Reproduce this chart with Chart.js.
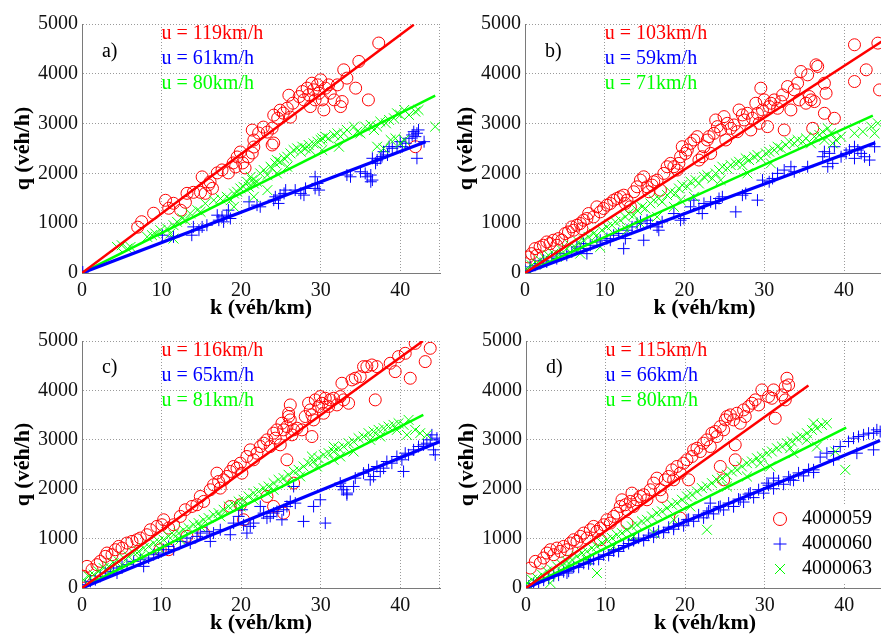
<!DOCTYPE html>
<html><head><meta charset="utf-8">
<script src="https://cdn.jsdelivr.net/npm/chart.js@4.4.0/dist/chart.umd.min.js"></script>
<style>
html,body{margin:0;padding:0;background:#fff;width:881px;height:637px;overflow:hidden;position:relative;}
canvas{position:absolute;}
</style></head><body>
<canvas id="pa" style="left:0px;top:0px" width="450" height="319"></canvas>
<canvas id="pb" style="left:443px;top:0px" width="451" height="319"></canvas>
<canvas id="pc" style="left:0px;top:317px" width="450" height="317"></canvas>
<canvas id="pd" style="left:444px;top:317px" width="450" height="317"></canvas>
<script>
const sensors = ['4000059','4000060','4000063'];
const panelTags = ['a)','b)','c)','d)'];
const xAxisTitle = 'k (véh/km)';
const yAxisTitle = 'q (véh/h)';
const speedsA = [119,61,80];
const speedsB = [103,59,71];
const speedsC = [116,65,81];
const speedsD = [115,66,80];
const textPosK = 10;
const textPosQ = [4800,4300,3800];
const tagPos = [2.5,4450];

// fitted lines [k,q] start/end
const linesA = [[[0,0],[41.7,4985]],[[0,0],[43.2,2637]],[[0,0],[44.4,3563]]];
const linesB = [[[0,0],[45,4680]],[[0,0],[43.9,2617]],[[0,0],[43.6,3160]]];
const linesC = [[[0,0],[42.85,5000]],[[0,0],[45,2965]],[[0,0],[42.9,3504]]];
const linesD = [[[0,0],[35.5,4097]],[[0,0],[44.5,2985]],[[0,0],[40.25,3248]]];

// ---- panel a ----
const redA = [[7,920],[7.5,1030],[9,1200],[10.5,1460],[10.9,1300],[11.5,1400],[12.4,1260],[13,1420],[13.2,1600],[14,1620],[14.9,1620],[15.5,1600],[15.1,1930],[15.9,1770],[16.1,1830],[16.4,1700],[17,2010],[17.6,2070],[18.4,2010],[19,2210],[19.5,2330],[19.9,2430],[19.3,2130],[20.2,2210],[20.5,2110],[20.9,2330],[21.4,2410],[21.6,2530],[21.4,2870],[21.6,2670],[22.2,2810],[22.8,2930],[23.3,2830],[23.9,2910],[24.1,2610],[23.9,2570],[24.1,3170],[24.6,3110],[24.9,3270],[25.3,3210],[25.8,3310],[26,3570],[26.2,3130],[26.5,3410],[27.3,3543],[27.7,3644],[27.9,3476],[28.3,3712],[28.5,3577],[28.7,3342],[28.9,3812],[29.1,3678],[29.3,3476],[29.6,3778],[29.8,3611],[30,3879],[30.2,3476],[30.4,3275],[30.6,3712],[31,3778],[31.2,3611],[31.7,3476],[32.1,3778],[32.5,3342],[32.7,3443],[32.9,4080],[33.3,3913],[34.4,3712],[34.8,4248],[36,3476],[37.3,4618],[41.9,2536]];
const blueA = [[0.1,20],[10.1,759],[11.5,725],[13.8,759],[14,926],[14.7,860],[15.1,926],[15.7,960],[17,1161],[17.2,1061],[17.6,1127],[17.8,1027],[18.2,1161],[18.65,1095],[18.4,1262],[21,1429],[22,1363],[22.4,1329],[24.1,1463],[24.3,1530],[24.7,1397],[25.4,1598],[25.6,1665],[24.9,1564],[26.8,1665],[27.5,1598],[27.9,1564],[28.1,1699],[29.3,1932],[29.6,1799],[29.8,1665],[29.3,1699],[33.3,1967],[33.75,1932],[35,2033],[35.6,2000],[35.85,1932],[36.3,1967],[36.5,1866],[36.3,1832],[36.5,2303],[36.9,2202],[37.1,2269],[37.5,2303],[37.7,2336],[37.9,2436],[38.4,2370],[38.6,2537],[39,2504],[39.6,2537],[40,2637],[40.25,2537],[40.7,2605],[41.1,2705],[41.5,2772],[41.7,2838],[41.9,2738],[42.1,2806],[42.3,2873],[42.1,2303],[43,2637]];
const greenA = [[4.4,523],[5,557],[5.7,490],[6.1,523],[8.2,725],[8.8,759],[9.2,793],[9.85,860],[10.7,893],[11.1,793],[11.5,960],[11.95,1027],[12.6,1095],[13,1061],[13.6,1195],[14.5,1262],[14.9,1228],[15.5,1397],[16.56,1463],[17.4,1496],[18.2,1530],[18.7,1463],[19.1,1597],[19.5,1631],[19.9,1698],[20.3,1731],[20.75,1832],[20.96,1731],[21.2,1932],[21.4,1865],[21.6,1798],[22,1832],[22.4,2000],[22.85,2067],[23.3,1966],[23.7,2134],[23.9,2100],[24.3,2201],[24.5,2268],[24.9,2234],[25.4,2302],[25.8,2335],[26.2,2402],[26.6,2469],[27.05,2503],[27.5,2436],[27.7,2536],[28.1,2503],[28.5,2570],[28.7,2469],[29.1,2603],[29.6,2637],[30,2671],[30.2,2704],[30.6,2738],[31,2704],[31.7,2771],[32.1,2805],[32.5,2738],[32.9,2805],[33.3,2872],[34.2,2939],[34.6,2838],[35,2805],[35.6,2939],[36.3,2973],[36.7,2872],[37.1,2939],[37.5,3040],[38.2,3006],[38.6,3073],[39.2,3107],[39.6,3207],[40,3174],[40.5,3274],[41.1,3174],[41.9,3241],[42.3,3274],[44.4,2939],[37.1,2536],[37.9,2503],[38.8,2671],[39.4,2704],[40,2603],[40.5,2671],[32.3,2536],[30.2,2469],[25.8,2134],[24.5,2000],[23.3,1664],[21.6,1530],[19.1,1329],[11.5,691]];

// ---- panel b ----
const redB = [[0,188],[0.42,322],[0.84,389],[1.26,490],[1.47,356],[1.89,523],[2.31,557],[2.73,624],[3.14,590],[3.56,658],[3.98,557],[4.19,691],[4.61,658],[5.03,792],[5.45,825],[5.87,926],[6.08,859],[6.5,960],[6.92,993],[7.13,892],[7.34,1060],[7.76,1094],[7.97,1194],[8.6,1127],[9.01,1329],[9.43,1228],[9.85,1295],[10.27,1362],[10.69,1396],[11.11,1463],[11.53,1496],[11.95,1530],[12.37,1563],[12.58,1396],[12.79,1463],[13.21,1329],[13.63,1631],[14.05,1731],[14.47,1865],[14.88,1932],[15.3,1731],[15.51,1631],[15.93,1765],[16.14,1832],[16.56,1865],[16.98,1664],[17.4,2000],[17.82,2134],[18.24,2201],[18.66,2134],[19.08,2067],[19.29,2201],[19.5,2335],[19.71,2536],[20.13,2402],[20.34,2469],[20.75,2603],[21.17,2671],[21.59,2738],[21.8,2268],[22.22,2335],[22.43,2536],[22.85,2671],[23.06,2738],[23.27,2402],[23.69,2805],[23.9,3073],[24.11,2939],[24.53,2872],[24.95,3140],[25.16,2671],[25.37,3006],[25.79,2905],[26.21,2973],[26.62,2838],[26.83,3274],[27.25,3174],[27.46,3073],[27.88,3207],[28.3,2872],[28.51,3107],[28.93,3409],[29.14,3207],[29.35,3006],[29.56,3711],[29.77,3274],[29.98,3476],[30.4,2939],[30.61,3342],[30.82,3409],[31.24,3476],[31.66,3308],[32.08,3442],[32.29,3576],[32.49,2872],[32.91,3744],[33.33,3274],[33.75,3677],[34.17,3811],[34.38,3476],[34.59,4046],[35.22,3409],[35.43,3979],[35.64,3543],[35.85,3476],[36.27,3442],[36.48,4180],[36.69,4147],[37.53,3811],[37.74,3610],[37.53,3207],[38.78,3107],[41.3,4583],[41.3,3845],[42.77,4080],[44.23,4616],[44.44,3677],[36.06,2905]];
const blueB = [[0,54],[0.63,121],[1.26,154],[1.89,188],[2.31,255],[2.73,221],[3.35,322],[3.98,289],[4.4,389],[5.24,356],[5.87,423],[6.5,523],[6.92,490],[7.76,389],[7.34,590],[8.18,557],[9.01,624],[9.43,658],[10.27,691],[10.69,658],[11.11,758],[11.74,792],[12.37,490],[12.58,691],[12.79,859],[13.42,926],[14.05,993],[14.47,1027],[14.88,658],[15.3,1060],[15.72,993],[16.56,926],[16.77,859],[17.19,1027],[18.66,1194],[19.5,1060],[19.92,1094],[20.75,1329],[21.17,1463],[21.8,1295],[22.22,1194],[22.43,1396],[23.27,1429],[23.9,1396],[24.32,1496],[24.74,1530],[26.42,1228],[27.25,1563],[27.67,1597],[29.14,1463],[29.77,1865],[30.61,1832],[31.03,1899],[31.66,2000],[32.49,2067],[33.33,2134],[33.75,2033],[35.43,2134],[37.32,2335],[37.53,2436],[38.16,2402],[37.95,2134],[38.78,2536],[39.62,2335],[40.25,2402],[40.67,2469],[41.3,2536],[41.72,2469],[42.14,2402],[42.56,2335],[43.19,2268],[43.82,2536],[41.3,2302],[38.57,2201]];
const greenB = [[0.21,87],[0.84,154],[1.47,188],[1.89,255],[2.52,289],[2.94,356],[3.56,389],[3.98,322],[4.61,456],[5.24,490],[5.66,557],[6.29,523],[6.71,624],[7.34,658],[7.97,725],[8.6,792],[9.01,758],[9.64,859],[10.27,926],[10.9,960],[11.32,1027],[11.95,1060],[12.58,1127],[13,1194],[13.63,1161],[14.05,1261],[14.68,1329],[15.09,1295],[15.72,1396],[16.14,1463],[16.77,1496],[17.19,1429],[17.82,1563],[18.24,1631],[18.87,1597],[19.29,1698],[19.71,1765],[20.34,1731],[20.75,1832],[21.38,1865],[21.8,1798],[22.43,1932],[22.85,1966],[23.48,1899],[23.9,2000],[24.32,2067],[24.74,2134],[25.37,2100],[25.79,2167],[26.42,2201],[26.83,2234],[27.25,2167],[27.67,2302],[28.09,2268],[28.72,2335],[29.14,2369],[29.56,2302],[30.19,2402],[30.61,2436],[31.24,2469],[31.66,2536],[32.08,2503],[32.7,2570],[33.12,2637],[33.75,2603],[34.17,2671],[34.8,2637],[35.22,2704],[35.85,2603],[36.27,2738],[36.9,2771],[37.32,2838],[37.53,2671],[37.95,2905],[38.36,2805],[38.57,2603],[38.99,2671],[39.62,2738],[41.3,2805],[42.35,2838],[43.4,2939],[43.82,2805],[44.23,3006],[12.79,859],[14.47,993],[16.56,1127],[18.66,1329],[21.17,1530],[24.53,1865],[27.88,2000],[30.82,2201],[19.5,1463],[9.43,523],[6.92,389]];

// ---- panel c ----
const redC = [[0.21,236],[0.63,438],[1.26,371],[1.88,472],[2.3,539],[2.93,640],[3.14,708],[3.77,674],[4.19,775],[4.61,842],[5.03,809],[5.65,910],[6.28,943],[6.91,977],[7.33,1011],[8.17,1078],[8.59,1179],[9.42,1247],[10.05,1280],[10.26,1381],[10.89,1213],[11.52,1280],[12.36,1449],[12.98,1584],[13.82,1651],[14.45,1685],[14.87,1853],[15.29,1752],[16.13,1988],[16.54,2089],[16.96,2325],[17.17,2156],[17.38,2022],[17.8,2190],[18.22,2258],[18.64,2359],[19.06,2460],[19.48,2426],[19.9,2527],[20.1,2325],[20.73,2662],[21.15,2797],[21.57,2595],[21.99,2729],[22.41,2864],[22.83,2931],[23.25,2999],[23.66,2864],[24.08,3134],[24.29,3033],[24.5,3201],[24.92,2898],[25.13,3336],[25.34,3201],[25.76,3268],[25.97,3471],[26.18,3403],[26.39,3100],[26.6,3201],[27.02,3235],[27.64,3201],[28.06,3471],[28.48,3740],[28.69,3605],[28.9,3504],[29.11,3403],[29.32,3808],[29.74,3673],[29.95,3875],[30.16,3740],[30.37,3538],[30.58,3841],[31,3673],[31.2,3808],[31.62,3841],[32.04,3706],[32.46,3875],[32.67,4145],[32.88,3808],[33.51,3740],[33.93,4212],[34.35,4246],[34.97,4279],[35.39,4481],[35.81,4481],[36.44,4515],[36.86,3808],[37.07,4481],[38.74,4549],[39.37,4380],[39.79,4684],[40.63,4751],[41.26,4246],[41.88,4953],[43.14,4583],[43.77,4852],[25.76,2595],[28.9,3066],[26.18,3706],[25.97,3538],[9.84,775],[10.89,775],[13.19,1045],[15.29,1112],[18.64,1651],[19.9,1685],[20.31,1381],[23.25,1853],[24.08,1651],[25.34,1516],[26.6,2123]];
const blueC = [[0.42,67],[1.05,135],[1.68,168],[2.3,236],[2.93,303],[3.56,337],[3.98,404],[4.4,303],[5.03,438],[5.65,472],[6.49,539],[7.33,573],[7.75,438],[8.38,607],[9.01,674],[9.63,708],[10.26,775],[10.89,842],[11.52,775],[12.36,943],[13.19,1011],[13.61,910],[14.45,1045],[14.87,1112],[15.71,1146],[16.13,943],[16.54,1112],[17.38,1179],[18.64,1078],[19.06,1314],[19.69,1449],[20.1,1584],[20.31,1280],[20.73,1112],[21.15,1247],[21.57,1314],[22.41,1651],[22.83,1516],[23.25,1415],[23.66,1449],[24.08,1516],[24.5,1550],[25.13,1381],[25.34,1584],[25.76,1651],[26.18,1752],[26.6,2055],[26.81,1718],[27.85,1348],[29.11,1651],[29.95,1786],[30.58,1314],[32.46,2123],[32.88,1988],[33.3,1921],[34.14,2055],[34.35,2224],[35.39,2325],[36.02,2392],[36.65,2258],[37.07,2460],[37.91,2426],[38.32,2561],[38.95,2527],[39.58,2662],[40.21,2595],[40.63,2729],[41.05,2696],[41.68,2797],[42.3,2864],[42.93,2898],[43.35,2931],[43.77,2999],[43.98,3100],[44.19,2797],[44.61,3033],[45.03,2999],[44.4,2696],[40.42,2359],[37.49,2359],[36.23,2190],[32.67,2055],[33.3,1887]];
const greenC = [[0.21,168],[0.84,236],[1.47,270],[2.09,337],[2.72,404],[3.35,438],[3.98,505],[4.61,539],[5.24,607],[5.86,640],[6.49,708],[7.12,741],[7.75,809],[8.38,842],[9.01,910],[9.63,943],[10.26,977],[10.89,1045],[11.52,1078],[12.15,1112],[12.77,1179],[13.4,1213],[14.03,1280],[14.66,1314],[15.29,1381],[15.92,1415],[16.54,1483],[17.17,1516],[17.8,1584],[18.43,1651],[19.06,1685],[19.69,1752],[20.31,1786],[20.94,1853],[21.57,1921],[22.2,1954],[22.83,2022],[23.46,2055],[24.08,2123],[24.71,2190],[25.34,2224],[25.97,2291],[26.6,2359],[27.23,2392],[27.85,2460],[28.48,2527],[29.11,2561],[29.74,2628],[30.37,2696],[31,2729],[31.62,2763],[32.25,2830],[32.88,2864],[33.51,2931],[34.14,2965],[34.76,3033],[35.39,3066],[36.02,3134],[36.65,3167],[37.28,3201],[37.91,3235],[38.53,3268],[39.16,3302],[39.79,3336],[40.42,3302],[41.05,3403],[41.88,3201],[42.51,3134],[43.35,3100],[36.23,2999],[34.14,2763],[31.62,2595],[29.53,2460],[27.43,2258],[25.76,2123],[23.25,1921],[19.9,1651],[17.38,1449],[14.87,1247],[12.36,977],[9.84,775],[7.33,640],[4.82,438],[21.57,1786],[24.08,1988],[31.62,2864],[37.49,3066],[39.58,3201],[40.84,3100],[32.46,2662],[28.9,2662]];

// ---- panel d ----
const redD = [[0.54,404],[1.17,539],[1.8,505],[2.22,607],[2.64,708],[3.06,775],[3.48,674],[3.9,809],[4.31,741],[4.73,842],[5.15,775],[5.57,910],[5.99,977],[6.41,943],[6.83,1045],[7.25,1112],[7.66,1011],[8.08,1179],[8.5,1247],[8.92,1146],[9.34,1213],[9.76,1280],[10.18,1381],[10.6,1314],[11.02,1449],[11.43,1516],[11.85,1651],[12.06,1786],[12.48,1685],[12.69,1584],[13.11,1752],[13.32,1921],[13.53,1651],[13.95,1786],[14.37,1853],[14.79,1887],[15.2,1786],[15.62,1988],[16.04,2123],[16.46,2224],[16.88,1988],[17.09,1853],[17.51,2190],[17.93,2258],[18.35,2392],[18.56,2190],[18.97,2460],[19.39,2325],[19.81,2527],[20.23,2595],[20.44,2190],[20.86,2662],[21.07,2797],[21.49,2830],[21.91,2763],[22.32,2931],[22.74,2999],[23.16,2864],[23.37,3134],[23.79,3167],[24,3066],[24.42,3268],[24.84,3201],[25.05,3403],[25.26,3471],[25.68,3504],[26.09,3403],[26.3,2898],[26.3,2595],[26.51,3538],[26.93,3336],[27.35,3605],[27.56,3471],[27.98,3673],[28.4,3740],[28.82,3808],[29.24,3706],[29.65,4010],[30.49,3875],[30.91,3841],[31.12,4010],[31.33,3437],[32.17,3909],[32.59,3808],[32.8,4246],[32.59,4077],[33.01,4111],[24.42,2460],[24.84,2190],[19.39,1415],[12.69,1314],[9.34,977]];
const blueD = [[0.34,40],[0.96,90],[1.59,120],[2.22,160],[2.85,200],[3.48,250],[4.1,260],[4.73,330],[5.36,340],[5.99,420],[6.62,420],[7.25,500],[7.87,490],[8.5,580],[9.13,580],[9.76,670],[10.39,660],[11.02,750],[11.64,740],[12.27,860],[12.9,900],[13.53,960],[14.16,1010],[14.79,960],[15.41,1070],[16.04,1030],[16.67,1150],[17.3,1120],[17.93,1230],[18.56,1190],[19.18,1300],[19.81,1260],[20.44,1390],[21.07,1350],[21.7,1480],[22.32,1420],[22.95,1560],[23.58,1500],[24.21,1640],[24.84,1580],[25.47,1720],[26.09,1650],[26.72,1800],[27.35,1740],[27.98,1900],[28.61,1830],[29.24,1990],[29.86,1920],[30.49,2080],[31.12,2010],[31.75,2170],[32.38,2100],[33.01,2250],[33.63,2180],[34.26,2330],[34.89,2270],[35.52,2400],[36.15,2340],[36.98,2650],[37.82,2729],[38.66,2763],[39.5,2864],[40.54,2965],[41.17,3033],[41.8,3066],[42.43,3100],[43.06,3134],[43.69,3134],[44.1,3201],[44.52,3167],[43.69,2797],[41.59,2729],[38.66,2595],[36.15,2392],[33.21,2190],[30.28,2123],[28.19,1921],[26.09,1651],[24.42,1651],[22.74,1516],[20.23,1381],[18.56,1247],[16.04,1112],[13.53,977],[11.02,775],[8.08,573],[5.15,303],[23.16,1718],[26.93,1786],[31.12,2224]];
const greenD = [[0.13,101],[0.75,168],[1.38,202],[2.01,270],[2.64,337],[3.27,371],[3.9,438],[4.52,472],[5.15,539],[5.78,573],[6.41,640],[7.04,708],[7.66,741],[8.29,809],[8.92,842],[9.55,910],[10.18,977],[10.81,1011],[11.43,1078],[12.06,1112],[12.69,1179],[13.32,1247],[13.95,1280],[14.58,1348],[15.2,1381],[15.83,1449],[16.46,1516],[17.09,1550],[17.72,1617],[18.35,1685],[18.97,1718],[19.6,1786],[20.23,1853],[20.86,1887],[21.49,1954],[22.12,2022],[22.74,2055],[23.37,2123],[24,2190],[24.63,2224],[25.26,2291],[25.88,2359],[26.51,2392],[27.14,2460],[27.77,2527],[28.4,2561],[29.03,2628],[29.65,2662],[30.28,2729],[30.91,2763],[31.54,2830],[32.17,2864],[32.8,2931],[33.42,2965],[34.05,3033],[34.68,3066],[35.31,3134],[35.94,3201],[36.57,3235],[37.19,3302],[37.82,3336],[40.13,2392],[38.87,2763],[36.57,2864],[33.63,2729],[30.7,2460],[27.77,2258],[25.26,2055],[22.74,1179],[20.65,1651],[18.56,1381],[16.04,1112],[13.53,1045],[11.02,842],[7.66,573],[5.15,438],[8.92,303],[3.06,101],[36.15,3336],[35.31,2999],[33.21,2830],[29.45,2527]];

const seriesColors = ['#ff0000','#0000ff','#00ff00'];
const gridColor = '#9a9a9a';
const FONT = "'Liberation Serif', 'Times New Roman', serif";

const toXY = arr => arr.map(p => ({x:p[0], y:p[1]}));

function drawMarker(ctx, kind, cx, cy, color){
  ctx.strokeStyle = color; ctx.lineWidth = 1; ctx.beginPath();
  if(kind===0){ ctx.arc(cx, cy, 6.5, 0, Math.PI*2); }
  else if(kind===1){ ctx.moveTo(cx-6.5,cy); ctx.lineTo(cx+6.5,cy); ctx.moveTo(cx,cy-6.5); ctx.lineTo(cx,cy+6.5); }
  else { ctx.moveTo(cx-5,cy-5); ctx.lineTo(cx+5,cy+5); ctx.moveTo(cx-5,cy+5); ctx.lineTo(cx+5,cy-5); }
  ctx.stroke();
}

const annotPlugin = {
  id: 'annot',
  beforeDatasetsDraw(chart){
    const {ctx, chartArea:a} = chart;
    ctx.save();
    ctx.strokeStyle = gridColor; ctx.lineWidth = 1; ctx.setLineDash([1,2]);
    const xr = Math.round(a.right) - 0.5;
    ctx.beginPath(); ctx.moveTo(xr, a.top); ctx.lineTo(xr, a.bottom); ctx.stroke();
    ctx.restore();
  },
  afterDatasetsDraw(chart, args, opts){
    const {ctx, chartArea:a, scales:{x, y}} = chart;
    ctx.save();
    ctx.font = '20px ' + FONT;
    ctx.textBaseline = 'middle'; ctx.textAlign = 'left';
    ctx.fillStyle = '#000';
    ctx.fillText(opts.tag, x.getPixelForValue(tagPos[0]), y.getPixelForValue(tagPos[1]));
    opts.speeds.forEach((u, i) => {
      ctx.fillStyle = seriesColors[i];
      ctx.fillText('u = ' + u + 'km/h', x.getPixelForValue(textPosK), y.getPixelForValue(textPosQ[i]));
    });
    if(opts.legend){
      const bx = a.right - 114, by = a.bottom - 84;
      ctx.fillStyle = '#fff'; ctx.fillRect(bx, by, 114, 80);
      const rows = [69, 44, 19];
      sensors.forEach((s, i) => {
        const cy = a.bottom - rows[i];
        drawMarker(ctx, i, a.right - 104, cy, seriesColors[i]);
        ctx.fillStyle = '#000';
        ctx.fillText(s, a.right - 82, cy);
      });
    }
    ctx.restore();
  }
};

function makePanel(id, tag, speeds, red, blue, green, lines, legend){
  const datasets = [
    {label:sensors[0], data:toXY(red), pointStyle:'circle', pointRadius:6, borderColor:seriesColors[0], backgroundColor:'rgba(0,0,0,0)', pointBorderWidth:1, order:3},
    {label:sensors[1], data:toXY(blue), pointStyle:'cross', pointRadius:6, borderColor:seriesColors[1], backgroundColor:'rgba(0,0,0,0)', pointBorderWidth:1, order:2},
    {label:sensors[2], data:toXY(green), pointStyle:'crossRot', pointRadius:7, borderColor:seriesColors[2], backgroundColor:'rgba(0,0,0,0)', pointBorderWidth:1, order:1},
    {label:'fit059', data:toXY(lines[0]), showLine:true, pointRadius:0, borderColor:seriesColors[0], borderWidth:2.5, order:0},
    {label:'fit060', data:toXY(lines[1]), showLine:true, pointRadius:0, borderColor:seriesColors[1], borderWidth:3.2, order:0},
    {label:'fit063', data:toXY(lines[2]), showLine:true, pointRadius:0, borderColor:seriesColors[2], borderWidth:2.5, order:0}
  ];
  const tickFont = {family:FONT, size:20};
  const titleFont = {family:FONT, size:22, weight:'bold', lineHeight:1};
  new Chart(document.getElementById(id), {
    type:'scatter',
    data:{datasets},
    plugins:[annotPlugin],
    options:{
      responsive:false, animation:false, events:[],
      layout:{padding:{top:24, right:10, left:0, bottom:0}},
      plugins:{legend:{display:false}, tooltip:{enabled:false}, annot:{tag, speeds, legend}},
      scales:{
        x:{type:'linear', min:0, max:45,
           ticks:{stepSize:10, includeBounds:false, padding:6, color:'#111', font:tickFont, maxRotation:0, callback:v=>String(v)},
           grid:{color:gridColor, drawTicks:false},
           border:{display:true, color:'#7a7a7a', width:1, dash:[1,2]},
           title:{display:true, text:xAxisTitle, color:'#000', font:titleFont, padding:{top:0,bottom:0}},
           afterFit(s){ s.height = 46; }},
        y:{type:'linear', min:0, max:5000,
           ticks:{stepSize:1000, padding:4, color:'#111', font:tickFont, callback:v=>String(v)},
           grid:{color:gridColor, drawTicks:false},
           border:{display:true, color:'#7a7a7a', width:1, dash:[1,2]},
           title:{display:true, text:yAxisTitle, color:'#000', font:titleFont, padding:{top:12,bottom:0}},
           afterFit(s){ s.width = 82; }}
      }
    }
  });
}

makePanel('pa', panelTags[0], speedsA, redA, blueA, greenA, linesA, false);
makePanel('pb', panelTags[1], speedsB, redB, blueB, greenB, linesB, false);
makePanel('pc', panelTags[2], speedsC, redC, blueC, greenC, linesC, false);
makePanel('pd', panelTags[3], speedsD, redD, blueD, greenD, linesD, true);
</script>
</body></html>
